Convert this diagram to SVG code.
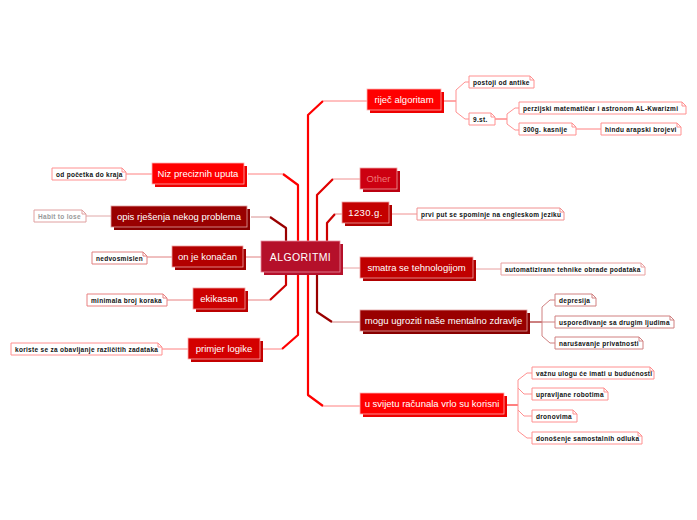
<svg xmlns="http://www.w3.org/2000/svg" width="697" height="520" viewBox="0 0 697 520">
<style>
.nt{font-family:"Liberation Sans",Arial,sans-serif;font-size:9.5px;fill:#fff;text-anchor:middle;dominant-baseline:central}
.no{fill:#fff;stroke-width:1}
.nx{font-family:"Liberation Sans",Arial,sans-serif;font-size:6.5px;font-weight:bold;fill:#111;letter-spacing:0.3px;dominant-baseline:central}
.ln{fill:none;stroke-linejoin:round}
</style>
<rect width="697" height="520" fill="#fff"/>
<g id="connectors">
  <!-- left -->
  <path class="ln" d="M298,241 V185 L283,174" stroke="#ff0000" stroke-width="2.2"/>
  <path class="ln" d="M283,174 H248" stroke="#ff8080" stroke-width="1"/>
  <path class="ln" d="M286,241 V228 L270,217" stroke="#990000" stroke-width="2.2"/>
  <path class="ln" d="M270,217 H251" stroke="#d89090" stroke-width="1"/>
  <path class="ln" d="M261,257 H246" stroke="#e08080" stroke-width="1"/>
  <path class="ln" d="M286,272 V285 L270,300" stroke="#cc0000" stroke-width="2.2"/>
  <path class="ln" d="M270,300 H248" stroke="#e88080" stroke-width="1"/>
  <path class="ln" d="M298,272 V335 L282,349" stroke="#ff0000" stroke-width="2.2"/>
  <path class="ln" d="M282,349 H263" stroke="#ff8080" stroke-width="1"/>
  <!-- right -->
  <path class="ln" d="M308,241 V115 L323,101" stroke="#ff0000" stroke-width="2.2"/>
  <path class="ln" d="M323,101 H367" stroke="#ff8080" stroke-width="1"/>
  <path class="ln" d="M317,241 V195 L333,179" stroke="#e00000" stroke-width="2.2"/>
  <path class="ln" d="M333,179 H360" stroke="#f09090" stroke-width="1"/>
  <path class="ln" d="M327,241 V223 L335,214" stroke="#cc0000" stroke-width="2.2"/>
  <path class="ln" d="M335,214 H342" stroke="#e88080" stroke-width="1"/>
  <path class="ln" d="M343,268 H360" stroke="#e8a0a0" stroke-width="1"/>
  <path class="ln" d="M317,272 V312 L332,322" stroke="#990000" stroke-width="2.2"/>
  <path class="ln" d="M332,322 H360" stroke="#d08080" stroke-width="1"/>
  <path class="ln" d="M308,272 V395 L323,406" stroke="#ff0000" stroke-width="2.2"/>
  <path class="ln" d="M323,406 H360" stroke="#ff8080" stroke-width="1"/>
  <!-- sub -->
  <path class="ln" d="M444,101 H456" stroke="#ff5050" stroke-width="1"/>
  <path class="ln" d="M469,82 H465 L456,90 V112 L465,119 H469" stroke="#ff9090" stroke-width="1"/>
  <path class="ln" d="M495,119 H507" stroke="#ff5050" stroke-width="1"/>
  <path class="ln" d="M519,108 H515 L507,114 V124 L515,130 H519" stroke="#ff9090" stroke-width="1"/>
  <path class="ln" d="M576,129 H601" stroke="#ff8080" stroke-width="1"/>
  <path class="ln" d="M392,214 H417" stroke="#f09090" stroke-width="1"/>
  <path class="ln" d="M476,269 H501" stroke="#e8a0a0" stroke-width="1"/>
  <path class="ln" d="M530,322 H542" stroke="#990000" stroke-width="1"/>
  <path class="ln" d="M555,300 H550 L542,307 V336 L550,343 H555 M542,322 H555" stroke="#d08080" stroke-width="1"/>
  <path class="ln" d="M507,405 H518" stroke="#ff0000" stroke-width="1"/>
  <path class="ln" d="M532,373 H527 L518,380 V431 L527,438 H532 M518,388 L524,394 H532 M518,410 L524,416 H532" stroke="#ff9090" stroke-width="1"/>
  <path class="ln" d="M152,174 H126" stroke="#ff8080" stroke-width="1"/>
  <path class="ln" d="M111,216 H86" stroke="#e0a8a8" stroke-width="1"/>
  <path class="ln" d="M172,257 H147" stroke="#e08080" stroke-width="1"/>
  <path class="ln" d="M193,300 H167" stroke="#e88080" stroke-width="1"/>
  <path class="ln" d="M188,349 H162" stroke="#ff8080" stroke-width="1"/>
</g>

<g id="n-algoritmi">
  <rect x="264" y="244" width="79" height="31" fill="#b5102a"/>
  <rect x="261" y="241" width="79" height="31" fill="#b5102a" stroke="#e890a0" stroke-width="0.8"/>
  <text class="nt" x="300.5" y="257" style="font-size:10.5px;letter-spacing:0.4px">ALGORITMI</text>
</g>

<g id="n-rijec">
  <rect x="370" y="92" width="74" height="21" fill="#ee0000"/>
  <rect x="367" y="89" width="74" height="21" fill="#ff0000" stroke="#ffb0b0" stroke-width="0.8"/>
  <text class="nt" x="404" y="99.5">riječ algoritam</text>
</g>
<g id="n-other">
  <rect x="363" y="171" width="37" height="21" fill="#bb0010"/>
  <rect x="360" y="168" width="37" height="21" fill="#cc0011" stroke="#f0a0a0" stroke-width="0.8"/>
  <text class="nt" x="378.5" y="178.5" style="fill:#f07878">Other</text>
</g>
<g id="n-1230">
  <rect x="345" y="205" width="47" height="21" fill="#b00000"/>
  <rect x="342" y="202" width="47" height="21" fill="#c40000" stroke="#f0a0a0" stroke-width="0.8"/>
  <text class="nt" x="365.5" y="212.5" style="letter-spacing:0.4px">1230.g.</text>
</g>
<g id="n-smatra">
  <rect x="363" y="260" width="113" height="21" fill="#b00000"/>
  <rect x="360" y="257" width="113" height="21" fill="#c00000" stroke="#f0a0a0" stroke-width="0.8"/>
  <text class="nt" x="416.5" y="267.5">smatra se tehnologijom</text>
</g>
<g id="n-mogu">
  <rect x="363" y="313" width="167" height="21" fill="#880000"/>
  <rect x="360" y="310" width="167" height="21" fill="#990000" stroke="#e0a0a0" stroke-width="0.8"/>
  <text class="nt" x="443.5" y="320.5">mogu ugroziti naše mentalno zdravlje</text>
</g>
<g id="n-svijetu">
  <rect x="363" y="396" width="144" height="21" fill="#ee0000"/>
  <rect x="360" y="393" width="144" height="21" fill="#ff0000" stroke="#ffb0b0" stroke-width="0.8"/>
  <text class="nt" x="432" y="403.5">u svijetu računala vrlo su korisni</text>
</g>

<g id="n-niz">
  <rect x="155" y="166" width="92" height="21" fill="#ee0000"/>
  <rect x="152" y="163" width="92" height="21" fill="#ff0000" stroke="#ffb0b0" stroke-width="0.8"/>
  <text class="nt" x="198" y="173.5">Niz preciznih uputa</text>
</g>
<g id="n-opis">
  <rect x="114" y="209" width="136" height="21" fill="#880000"/>
  <rect x="111" y="206" width="136" height="21" fill="#990000" stroke="#e0a0a0" stroke-width="0.8"/>
  <text class="nt" x="179" y="216.5">opis rješenja nekog problema</text>
</g>
<g id="n-konacan">
  <rect x="175" y="249" width="71" height="21" fill="#a00000"/>
  <rect x="172" y="246" width="71" height="21" fill="#b30000" stroke="#f0a0a0" stroke-width="0.8"/>
  <text class="nt" x="207.5" y="256.5">on je konačan</text>
</g>
<g id="n-ekikasan">
  <rect x="196" y="291" width="52" height="21" fill="#bb0000"/>
  <rect x="193" y="288" width="52" height="21" fill="#cc0000" stroke="#f0a0a0" stroke-width="0.8"/>
  <text class="nt" x="219" y="298.5">ekikasan</text>
</g>
<g id="n-primjer">
  <rect x="191" y="341" width="72" height="21" fill="#c40000"/>
  <rect x="188" y="338" width="72" height="21" fill="#d40000" stroke="#ffb0b0" stroke-width="0.8"/>
  <text class="nt" x="224" y="348.5">primjer logike</text>
</g>

<!-- notes -->
<g id="t-postoji">
  <path class="no" d="M469,76 H530 L534,80 V88 H469 Z M530,76 V80 H534" stroke="#ff9090"/>
  <text class="nx" x="473" y="82">postoji od antike</text>
</g>
<g id="t-9st">
  <path class="no" d="M469,113 H491 L495,117 V125 H469 Z M491,113 V117 H495" stroke="#ff9090"/>
  <text class="nx" x="473" y="119">9.st.</text>
</g>
<g id="t-perzijski">
  <path class="no" d="M519,102 H682 L686,106 V114 H519 Z M682,102 V106 H686" stroke="#ff9090"/>
  <text class="nx" x="523" y="108">perzijski matematičar i astronom AL-Kwarizmi</text>
</g>
<g id="t-300g">
  <path class="no" d="M519,123 H572 L576,127 V135 H519 Z M572,123 V127 H576" stroke="#ff9090"/>
  <text class="nx" x="523" y="129">300g. kasnije</text>
</g>
<g id="t-hindu">
  <path class="no" d="M601,123 H677 L681,127 V135 H601 Z M677,123 V127 H681" stroke="#ff9090"/>
  <text class="nx" x="605" y="129">hindu arapski brojevi</text>
</g>
<g id="t-prvi">
  <path class="no" d="M417,208 H560 L564,212 V220 H417 Z M560,208 V212 H564" stroke="#f09090"/>
  <text class="nx" x="421" y="214">prvi put se spominje na engleskom jeziku</text>
</g>
<g id="t-auto">
  <path class="no" d="M501,263 H641 L645,267 V275 H501 Z M641,263 V267 H645" stroke="#e8a0a0"/>
  <text class="nx" x="505" y="269">automatizirane tehnike obrade podataka</text>
</g>
<g id="t-depresija">
  <path class="no" d="M555,294 H592 L596,298 V306 H555 Z M592,294 V298 H596" stroke="#d08080"/>
  <text class="nx" x="559" y="300">depresija</text>
</g>
<g id="t-usporedivanje">
  <path class="no" d="M555,316 H670 L674,320 V328 H555 Z M670,316 V320 H674" stroke="#d08080"/>
  <text class="nx" x="559" y="322">uspoređivanje sa drugim ljudima</text>
</g>
<g id="t-narusavanje">
  <path class="no" d="M555,337 H639 L643,341 V349 H555 Z M639,337 V341 H643" stroke="#d08080"/>
  <text class="nx" x="559" y="343">narušavanje privatnosti</text>
</g>
<g id="t-vaznu">
  <path class="no" d="M532,367 H650 L654,371 V379 H532 Z M650,367 V371 H654" stroke="#ff9090"/>
  <text class="nx" x="536" y="373">važnu ulogu će imati u budućnosti</text>
</g>
<g id="t-upravljane">
  <path class="no" d="M532,388 H604 L608,392 V400 H532 Z M604,388 V392 H608" stroke="#ff9090"/>
  <text class="nx" x="536" y="394">upravljane robotima</text>
</g>
<g id="t-dronovima">
  <path class="no" d="M532,410 H573 L577,414 V422 H532 Z M573,410 V414 H577" stroke="#ff9090"/>
  <text class="nx" x="536" y="416">dronovima</text>
</g>
<g id="t-donosenje">
  <path class="no" d="M532,432 H638 L642,436 V444 H532 Z M638,432 V436 H642" stroke="#ff9090"/>
  <text class="nx" x="536" y="438">donošenje samostalnih odluka</text>
</g>
<g id="t-pocetka">
  <path class="no" d="M52,168 H122 L126,172 V180 H52 Z M122,168 V172 H126" stroke="#ff9090"/>
  <text class="nx" x="56" y="174">od početka do kraja</text>
</g>
<g id="t-habit">
  <path class="no" d="M34,210 H82 L86,214 V222 H34 Z M82,210 V214 H86" stroke="#e0a0a0"/>
  <text class="nx" x="38" y="216" style="fill:#999">Habit to lose</text>
</g>
<g id="t-nedvosmislen">
  <path class="no" d="M92,252 H143 L147,256 V264 H92 Z M143,252 V256 H147" stroke="#e08080"/>
  <text class="nx" x="96" y="258">nedvosmislen</text>
</g>
<g id="t-minimala">
  <path class="no" d="M87,294 H163 L167,298 V306 H87 Z M163,294 V298 H167" stroke="#e88080"/>
  <text class="nx" x="91" y="300">minimala broj koraka</text>
</g>
<g id="t-koriste">
  <path class="no" d="M11,343 H158 L162,347 V355 H11 Z M158,343 V347 H162" stroke="#ff9090"/>
  <text class="nx" x="15" y="349">koriste se za obavljanje različitih zadataka</text>
</g>
</svg>
